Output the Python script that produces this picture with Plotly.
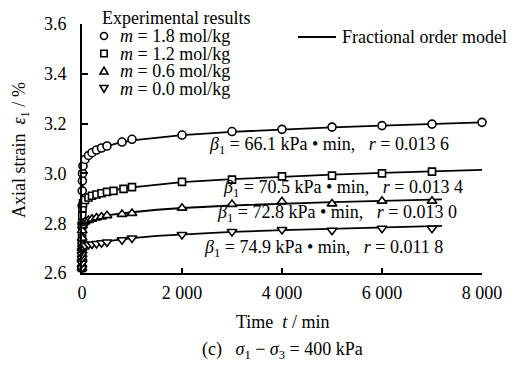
import plotly.graph_objects as go

# ---- measured creep data (time in min, axial strain in %) ----
t_m18 = [0, 1, 2, 3, 5, 8, 10, 20, 60, 130, 200, 290, 390, 500, 800, 1000,
         2000, 3000, 4000, 5000, 6000, 7000, 8000]
e_m18 = [2.62, 2.72, 2.80, 2.87, 2.93, 2.97, 3.00, 3.03, 3.056, 3.072, 3.083, 3.094,
         3.102, 3.110, 3.126, 3.137, 3.154, 3.168, 3.177, 3.186, 3.192, 3.198, 3.205]

t_m12 = [0, 1, 2, 3, 5, 10, 20, 60, 130, 200, 290, 390, 500, 630, 830, 1000,
         2000, 3000, 4000, 5000, 6000, 7000]
e_m12 = [2.62, 2.68, 2.74, 2.79, 2.83, 2.86, 2.88, 2.893, 2.903, 2.910, 2.915, 2.920,
         2.926, 2.930, 2.938, 2.945, 2.966, 2.975, 2.988, 2.991, 3.000, 3.007]

t_m06 = [0, 1, 2, 3, 5, 10, 20, 60, 130, 200, 290, 390, 500, 800, 1000,
         2000, 3000, 4000, 5000, 6000, 7000]
e_m06 = [2.62, 2.66, 2.70, 2.74, 2.77, 2.79, 2.80, 2.806, 2.812, 2.817, 2.822, 2.826,
         2.831, 2.836, 2.840, 2.861, 2.876, 2.887, 2.878, 2.889, 2.889]

t_m00 = [0, 1, 2, 3, 5, 10, 20, 60, 130, 200, 290, 390, 500, 800, 1000,
         2000, 3000, 4000, 5000, 6000, 7000]
e_m00 = [2.62, 2.64, 2.66, 2.675, 2.69, 2.70, 2.706, 2.710, 2.714, 2.716, 2.718, 2.721,
         2.724, 2.733, 2.740, 2.754, 2.766, 2.774, 2.771, 2.779, 2.779]

# ---- fractional order model curves ----
t_fit = [0, 2, 5, 10, 20, 50, 100, 200, 400, 700, 1000, 1500, 2000,
         3000, 4000, 5000, 6000, 7000, 8000]
f_m18 = [2.62, 2.85, 2.95, 3.00, 3.025, 3.050, 3.066, 3.085, 3.104, 3.121, 3.133,
         3.145, 3.154, 3.167, 3.177, 3.185, 3.192, 3.199, 3.205]
f_m12 = [2.62, 2.76, 2.83, 2.86, 2.875, 2.890, 2.900, 2.910, 2.922, 2.935, 2.944,
         2.956, 2.965, 2.977, 2.987, 2.995, 3.002, 3.008, 3.014]
t_fit_short = [0, 2, 5, 10, 20, 50, 100, 200, 400, 700, 1000, 1500, 2000,
               3000, 4000, 5000, 6000, 7000, 7200]
f_m06 = [2.62, 2.70, 2.75, 2.78, 2.795, 2.805, 2.812, 2.820, 2.829, 2.837, 2.844,
         2.854, 2.861, 2.871, 2.879, 2.885, 2.890, 2.895, 2.896]
f_m00 = [2.62, 2.66, 2.68, 2.695, 2.700, 2.706, 2.711, 2.717, 2.725, 2.733, 2.740,
         2.749, 2.755, 2.765, 2.772, 2.778, 2.783, 2.788, 2.789]

# ---- fitted parameters shown beside each curve ----
beta_vals = ["66.1", "70.5", "72.8", "74.9"]
r_vals = ["0.013 6", "0.013 4", "0.013 0", "0.011 8"]
label_t = [2500, 2780, 2660, 2390]
label_e = [3.114, 2.940, 2.840, 2.699]

legend_labels = ["1.8", "1.2", "0.6", "0.0"]

x_tickvals = [0, 2000, 4000, 6000, 8000]
x_ticktext = ["0", "2 000", "4 000", "6 000", "8 000"]
y_tickvals = [2.6, 2.8, 3.0, 3.2, 3.4, 3.6]
y_ticktext = ["2.6", "2.8", "3.0", "3.2", "3.4", "3.6"]

FONT = "Liberation Serif"
FS = 18
NB = "\u00a0"

fig = go.Figure()

fits = [(t_fit, f_m18), (t_fit, f_m12), (t_fit_short, f_m06), (t_fit_short, f_m00)]
for tx, fy in fits:
    fig.add_trace(go.Scatter(x=tx, y=fy, mode="lines",
                             line=dict(color="black", width=1.8),
                             showlegend=False, cliponaxis=False, hoverinfo="skip"))

series = [
    (t_m18, e_m18, "circle", 8),
    (t_m12, e_m12, "square", 7),
    (t_m06, e_m06, "triangle-up", 8.5),
    (t_m00, e_m00, "triangle-down", 8.5),
]
for tx, ey, sym, sz in series:
    fig.add_trace(go.Scatter(x=tx, y=ey, mode="markers",
                             marker=dict(symbol=sym, size=sz, color="white",
                                         line=dict(color="black", width=1.6)),
                             showlegend=False, cliponaxis=False))

annotations = []
for b, r, tx, ey in zip(beta_vals, r_vals, label_t, label_e):
    annotations.append(dict(
        x=tx, y=ey, xref="x", yref="y", xanchor="left", yanchor="middle",
        text=f"<i>β</i><sub>1</sub> = {b} kPa • min,{NB*3}<i>r</i> = {r}",
        showarrow=False, font=dict(family=FONT, size=FS, color="black")))

# legend block drawn in paper pixels
W, H = 530, 367
L, R, T, B = 82, 48, 24, 94
pw, ph = W - L - R, H - T - B


def px(x):
    return (x - L) / pw


def py(y):
    return 1 - (y - T) / ph


annotations.append(dict(x=px(100), y=py(18), xref="paper", yref="paper",
                        xanchor="left", yanchor="middle", showarrow=False,
                        text="Experimental results",
                        font=dict(family=FONT, size=FS, color="black")))
row_y = [36, 53.5, 71, 88.5]
for lab, yy in zip(legend_labels, row_y):
    annotations.append(dict(x=px(118), y=py(yy), xref="paper", yref="paper",
                            xanchor="left", yanchor="middle", showarrow=False,
                            text=f"<i>m</i> = {lab} mol/kg",
                            font=dict(family=FONT, size=FS, color="black")))
annotations.append(dict(x=px(340), y=py(37), xref="paper", yref="paper",
                        xanchor="left", yanchor="middle", showarrow=False,
                        text="Fractional order model",
                        font=dict(family=FONT, size=FS, color="black")))
annotations.append(dict(x=0.5, y=py(322), xref="paper", yref="paper",
                        xanchor="center", yanchor="middle", showarrow=False,
                        text=f"Time{NB*2}<i>t</i> / min",
                        font=dict(family=FONT, size=FS, color="black")))
annotations.append(dict(x=0.5, y=py(350), xref="paper", yref="paper",
                        xanchor="center", yanchor="middle", showarrow=False,
                        text=f"(c){NB*3}<i>σ</i><sub>1</sub> − <i>σ</i><sub>3</sub> = 400 kPa",
                        font=dict(family=FONT, size=FS, color="black")))
annotations.append(dict(x=px(20), y=py(150), xref="paper", yref="paper",
                        xanchor="center", yanchor="middle", showarrow=False,
                        textangle=-90,
                        text=f"Axial strain{NB*2}<i>ε</i><sub>1</sub> / %",
                        font=dict(family=FONT, size=FS, color="black")))

# legend symbols
shapes = []
lx = 104
s = 3.5
shapes.append(dict(type="circle", xref="paper", yref="paper",
                   x0=px(lx - s), x1=px(lx + s), y0=py(row_y[0] + s), y1=py(row_y[0] - s),
                   line=dict(color="black", width=1.6)))
shapes.append(dict(type="rect", xref="paper", yref="paper",
                   x0=px(lx - 3.2), x1=px(lx + 3.2), y0=py(row_y[1] + 3.2), y1=py(row_y[1] - 3.2),
                   line=dict(color="black", width=1.6)))
yu = row_y[2]
shapes.append(dict(type="path", xref="paper", yref="paper",
                   path=f"M {px(lx-4)} {py(yu+3)} L {px(lx+4)} {py(yu+3)} L {px(lx)} {py(yu-4)} Z",
                   line=dict(color="black", width=1.6)))
yd = row_y[3]
shapes.append(dict(type="path", xref="paper", yref="paper",
                   path=f"M {px(lx-4)} {py(yd-3)} L {px(lx+4)} {py(yd-3)} L {px(lx)} {py(yd+4)} Z",
                   line=dict(color="black", width=1.6)))
shapes.append(dict(type="line", xref="paper", yref="paper",
                   x0=px(298), x1=px(336), y0=py(37), y1=py(37),
                   line=dict(color="black", width=2)))

fig.update_layout(
    width=W, height=H,
    margin=dict(l=L, r=R, t=T, b=B),
    paper_bgcolor="white", plot_bgcolor="white",
    font=dict(family=FONT, size=FS, color="black"),
    showlegend=False,
    annotations=annotations,
    shapes=shapes,
    xaxis=dict(range=[0, 8000], tickvals=x_tickvals, ticktext=x_ticktext,
               showline=True, linecolor="black", linewidth=2,
               ticks="inside", ticklen=5, tickwidth=2, tickcolor="black",
               showgrid=False, zeroline=False, ticklabelstandoff=2),
    yaxis=dict(range=[2.6, 3.6], tickvals=y_tickvals, ticktext=y_ticktext,
               showline=True, linecolor="black", linewidth=2,
               ticks="inside", ticklen=6, tickwidth=2, tickcolor="black",
               showgrid=False, zeroline=False, ticklabelstandoff=10),
)

fig.write_html("out.html")
